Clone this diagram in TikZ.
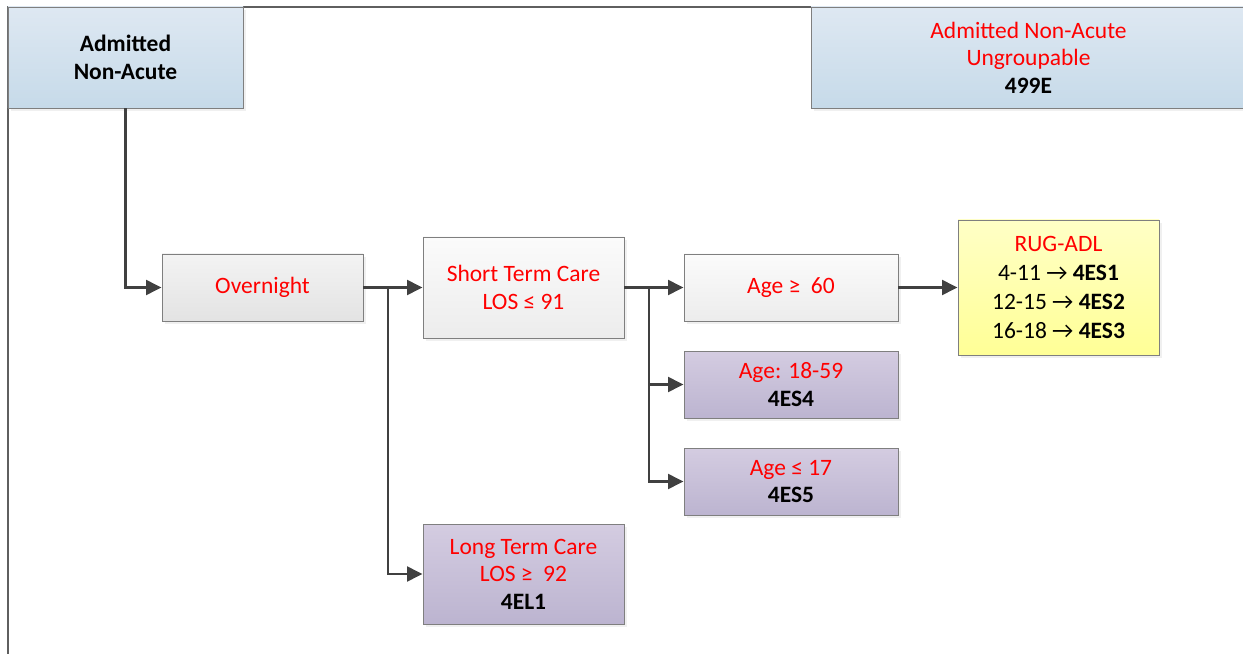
\documentclass[tikz,border=0pt]{standalone}
\usepackage{fontspec}
\setmainfont{Carlito}
\usetikzlibrary{arrows.meta,shadows}
\definecolor{lnk}{HTML}{404040}
\definecolor{bxline}{HTML}{7F7F7F}
\definecolor{frm}{HTML}{5F5F5F}
\definecolor{txtred}{HTML}{FF0000}
\begin{document}
\begin{tikzpicture}
  \tikzset{nb/.style={draw=bxline,line width=0.7pt,rectangle,align=center,inner sep=0pt,
      font=\fontsize{16.7pt}{19.6pt}\selectfont,
      drop shadow={opacity=0.12,shadow xshift=2pt,shadow yshift=-2pt}},
    bluebx/.style={nb,top color={rgb,255:red,222;green,232;blue,242},bottom color={rgb,255:red,198;green,218;blue,233}},
    greybx/.style={nb,top color={rgb,255:red,243;green,243;blue,243},bottom color={rgb,255:red,227;green,227;blue,227}},
    lightbx/.style={nb,top color={rgb,255:red,251;green,251;blue,251},bottom color={rgb,255:red,236;green,236;blue,236}},
    purplebx/.style={nb,top color={rgb,255:red,212;green,204;blue,225},bottom color={rgb,255:red,188;green,180;blue,208}},
    yellowbx/.style={nb,top color={rgb,255:red,255;green,255;blue,198},bottom color={rgb,255:red,255;green,255;blue,150}},
    ar/.style={draw=lnk,line width=1.9pt,-{Triangle[length=11pt,width=10.5pt]}}}
  \useasboundingbox (0,0) rectangle (31.075,16.325);
  % frame
  \draw[frm,line width=0.8pt] (0.2,-0.5) -- (0.2,16.15) -- (31.6,16.15);
  \node[bluebx,minimum width=5.875cm,minimum height=2.525cm] (adm) at (3.1375,14.8875) {\textbf{Admitted}\\\textbf{Non-Acute}};
  \node[bluebx,minimum width=10.875cm,minimum height=2.525cm] (ungr) at (25.7125,14.8875)
    {\color{txtred}Admitted Non-Acute\\\color{txtred}Ungroupable\\\textbf{499E}};
  \node[greybx,minimum width=5.025cm,minimum height=1.675cm] (ovn) at (6.5625,9.1375) {\color{txtred}Overnight};
  \node[lightbx,minimum width=5.025cm,minimum height=2.525cm] (stc) at (13.0875,9.1375)
    {\color{txtred}Short Term Care\\\color{txtred}LOS ≤ 91};
  \node[purplebx,minimum width=5.025cm,minimum height=2.5cm] (ltc) at (13.0875,1.975)
    {\color{txtred}Long Term Care\\\color{txtred}LOS ≥~ 92\\\textbf{4EL1}};
  \node[lightbx,minimum width=5.35cm,minimum height=1.675cm] (ag60) at (19.775,9.1375) {\color{txtred}Age ≥~ 60};
  \node[purplebx,minimum width=5.35cm,minimum height=1.675cm] (ag18) at (19.775,6.7125)
    {\color{txtred}Age: 18-59\\\textbf{4ES4}};
  \node[purplebx,minimum width=5.35cm,minimum height=1.675cm] (ag17) at (19.775,4.2875)
    {\color{txtred}Age ≤ 17\\\textbf{4ES5}};
  \node[yellowbx,minimum width=5.025cm,minimum height=3.375cm] (rug) at (26.4625,9.1375)
    {\color{txtred}RUG-ADL\\[1pt]4-11 → \textbf{4ES1}\\[1pt]12-15 → \textbf{4ES2}\\[1pt]16-18 → \textbf{4ES3}};
  % branch points
  \coordinate (j1) at (9.7,9.1375);
  \coordinate (j2) at (16.225,9.1375);
  \draw[ar] (adm) |- (ovn);
  \draw[ar] (ovn) -- (stc);
  \draw[ar] (j1) |- (ltc);
  \draw[ar] (stc) -- (ag60);
  \draw[ar] (j2) |- (ag18);
  \draw[ar] (j2) |- (ag17);
  \draw[ar] (ag60) -- (rug);
\end{tikzpicture}
\end{document}
